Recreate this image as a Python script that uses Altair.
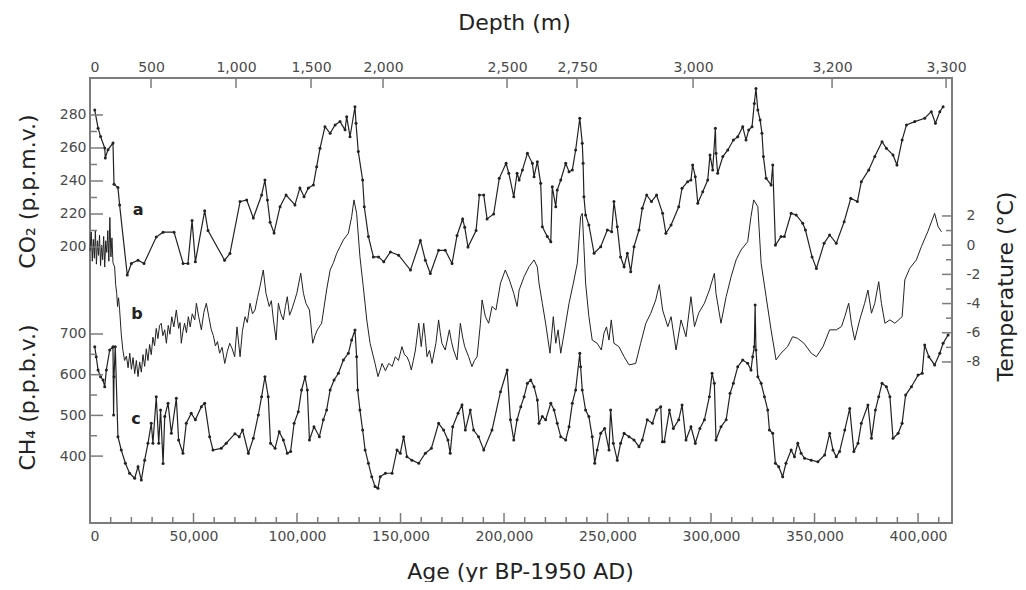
import altair as alt
import pandas as pd

# ---------------- data ----------------
# (age yr BP, CO2 ppmv)
co2 = [(2300,283),(3900,272),(5100,267),(7100,260),(7400,254),(8700,259),(11100,263),(11600,238),
(13500,236),(14300,225.5),(18000,183),(20000,190),(23200,192),(26100,190),(32000,206),(35300,209),
(40600,209),(45000,190),(47300,190),(49300,216),(50900,191),(55400,222),(57000,210),(65000,192),
(67600,196),(72500,227.5),(75700,228.5),(78900,217.6),(82900,231.5),(84500,240.6),(85700,228.5),
(87000,215),(88900,208.5),(91800,224.4),(94700,231.5),(99000,225.5),(101400,235.8),(103400,230.5),
(105500,235.8),(107900,237.6),(109500,248.7),(111100,259.8),(113500,272.9),(116000,268.9),(118400,274),
(120800,276),(123200,271),(124000,279),(125600,266.8),(128000,285),(128500,275),(129600,257.8),
(131700,240.6),(132500,224.4),(134500,206.3),(136900,194),(139400,194),(141900,191),(145100,197),
(149100,195),(154800,186),(159600,204),(162000,192),(164400,184),(168400,198),(171600,198),(174900,190),
(177300,207),(180000,217),(181000,212),(182600,200),(186500,210),(188100,231.5),(190200,231.5),
(191800,217),(195000,220),(197700,241.6),(201000,250.7),(202300,244.7),(204700,230.5),(206300,244.7),
(207300,240.6),(208900,246.7),(211300,256.8),(213700,250.7),(214500,242.6),(216100,251.7),(217700,238.6),
(218500,212.3),(220900,206.3),(222600,203.2),(223300,236.5),(225000,224.4),(225700,234.5),(227400,240.6),
(229800,250.7),(231400,245.6),(233000,246.7),(234600,258.8),(236600,278),(237800,262.8),(238200,250.7),
(238600,230.5),(239400,219.4),(241000,213.3),(243500,196.2),(246700,200.2),(249900,210.3),(252000,209.3),
(253100,227.5),(254700,212.3),(256300,194),(258000,188),(259600,196.2),(261200,185),(262800,200.2),
(265200,210.3),(266800,223.5),(268900,231.5),(271200,227.5),(273700,231.5),(276600,220.4),(278200,208.3),
(280700,213.3),(284400,224.4),(286000,235.6),(288700,239.6),(290300,240.6),(291100,249.7),(292400,242.6),
(293600,226.5),(296000,233.5),(298400,240.6),(299500,255.8),(300800,246.7),(302100,272),(302400,256.8),
(303200,244.7),(305700,254.8),(308100,258.8),(310800,264.8),(312900,266.8),(315300,272.9),(316900,264.8),
(318200,270.9),(319800,272.9),(320900,287),(321700,296),(322600,283),(323700,277),(324600,269),
(325300,254.8),(326600,241.6),(329000,237.6),(329800,249.7),(331100,201.2),(333800,206.3),(335400,206.3),
(338700,220.4),(341100,219.4),(344300,214.4),(345600,210.3),(348800,194),(350900,187),(354600,202.2),
(357300,207.3),(360500,202.2),(364300,215.3),(367500,229.5),(370700,227.5),(372600,239.6),(376200,246.7),
(379100,254.8),(382600,263.8),(384700,259.8),(387900,255.8),(389800,249.7),(392300,264.8),(394400,274),
(398400,276),(403200,278),(406400,282),(408400,275),(410500,282),(412100,285)]

# (age yr BP, temperature deg C)
temp = [(0,-0.4),(600,0.9),(1100,-1.1),(1600,0.4),(2100,-0.9),(2600,1.0),(3100,-1.3),(3600,0.3),
(4100,-0.7),(4600,0.7),(5100,-1.4),(5600,0.0),(6100,-1.0),(6600,0.6),(7100,-1.5),(7600,0.3),(8100,-0.5),
(8600,1.0),(9100,-1.1),(9600,1.9),(10100,-0.8),(10600,0.5),(11100,-1.2),(11900,-1.5),(12400,-2.7),
(12900,-3.3),(13300,-4.2),(13800,-3.6),(14300,-4.4),(15100,-6.1),(15900,-7.2),(16700,-7.9),(17600,-7.6),
(18400,-8.4),(19200,-7.4),(20000,-8.5),(20800,-7.7),(21600,-8.8),(22400,-7.9),(23200,-9.0),(24000,-8.0),
(24800,-8.7),(25600,-7.5),(26400,-8.3),(27200,-7.1),(28000,-7.9),(28800,-6.8),(29600,-7.5),(30400,-6.3),
(31200,-6.9),(32000,-5.7),(32800,-6.4),(33600,-5.5),(34400,-5.35),(35200,-6.2),(36100,-5.8),(36900,-6.72),
(37800,-5.5),(38600,-6.1),(39500,-4.9),(40500,-5.6),(41700,-4.44),(42800,-5.7),(43500,-5.3),(44100,-6.72),
(44900,-5.9),(45700,-5.35),(46600,-6.0),(47500,-4.9),(48400,-5.6),(49400,-4.7),(50600,-5.12),(51400,-3.98),
(52500,-4.9),(53800,-5.8),(55000,-4.6),(56200,-3.98),(57400,-4.9),(58600,-5.8),(59600,-6.2),(60600,-6.9),
(61600,-6.6),(62600,-7.4),(63800,-7.0),(65100,-8.1),(66300,-7.3),(67500,-6.72),(68700,-7.1),(69900,-7.64),
(71000,-5.6),(72500,-7.64),(73600,-5.9),(74900,-4.9),(76000,-5.3),(77300,-3.98),(78500,-4.7),(79700,-4.44),
(80900,-3.6),(82100,-2.84),(83700,-1.7),(85000,-3.3),(86600,-4.2),(87600,-3.8),(88600,-5.12),(89900,-6.5),
(91000,-3.98),(92200,-4.7),(93400,-5.12),(94400,-4.2),(95300,-3.53),(96400,-4.8),(97400,-4.44),(98600,-3.9),
(99900,-3.3),(101800,-1.92),(103100,-3.3),(104300,-3.98),(106000,-4.44),(107600,-6.72),(108700,-6.2),
(109800,-5.8),(111900,-5.35),(114300,-3.07),(116000,-1.7),(117600,-1.2),(119200,-0.55),(120800,-0.1),
(122400,0.36),(124800,0.82),(126400,1.95),(127500,3.1),(128800,2.18),(130400,-0.8),(132000,-2.84),
(133700,-5.12),(135300,-6.72),(137700,-8.1),(139100,-9.0),(140500,-8.4),(141100,-8.1),(142700,-8.6),
(144300,-8.1),(146000,-8.3),(147500,-7.64),(149000,-7.9),(150700,-6.95),(151900,-7.5),(153100,-7.64),
(154200,-8.0),(155200,-8.55),(156200,-7.9),(157200,-7.18),(158800,-5.35),(160000,-6.95),(161200,-5.35),
(162000,-6.4),(162800,-7.64),(164000,-7.2),(165200,-8.1),(167100,-6.72),(168400,-5.12),(169200,-6.0),
(170000,-6.72),(171600,-7.18),(173600,-5.8),(174600,-6.6),(175600,-7.18),(177300,-7.86),(178900,-5.35),
(180000,-6.3),(181000,-6.95),(182900,-7.64),(184500,-8.32),(185700,-7.9),(187000,-7.64),(188600,-5.35),
(189400,-3.75),(191000,-4.9),(192600,-5.35),(194200,-4.2),(196100,-4.44),(198300,-2.6),(200600,-1.7),
(202600,-2.38),(204700,-3.3),(206300,-4.2),(207300,-3.07),(209700,-2.16),(212100,-1.47),(214500,-1.01),
(216100,-1.5),(216900,-2.6),(218500,-3.98),(220100,-5.35),(222200,-7.4),(223800,-4.9),(225000,-6.72),
(226100,-5.8),(227400,-7.4),(229300,-5.8),(231400,-3.98),(233500,-2.6),(235400,-1.24),(237000,1.95),
(237800,2.18),(238600,-0.1),(239400,-2.6),(241000,-4.9),(242600,-6.5),(245000,-6.72),(247000,-7.18),
(248300,-6.03),(249500,-5.6),(250700,-6.5),(251800,-5.12),(253100,-6.72),(255500,-6.95),(258000,-7.64),
(260400,-8.2),(263600,-8.1),(266000,-6.72),(268500,-5.35),(270900,-4.66),(273300,-3.75),(275000,-2.7),
(276600,-4.44),(279100,-5.58),(280700,-4.9),(283100,-7.18),(285500,-5.12),(287900,-6.27),(290300,-3.53),
(292000,-5.58),(294000,-4.66),(296800,-3.98),(299200,-3.07),(301600,-1.93),(302400,-3.3),(304800,-5.35),
(307300,-3.53),(309700,-2.16),(312100,-1.01),(314500,-0.33),(317700,0.24),(319300,1.95),(320600,3.1),
(322600,2.64),(324200,-1.24),(326600,-3.53),(329000,-5.8),(331400,-7.86),(333800,-7.4),(337000,-6.95),
(339400,-6.27),(341800,-6.38),(344900,-6.72),(348400,-7.4),(350900,-7.64),(354100,-6.95),(357300,-5.8),
(360500,-5.8),(363000,-5.58),(364600,-4.9),(366500,-3.98),(367800,-5.35),(369400,-6.5),(371800,-5.12),
(374200,-3.98),(375800,-3.07),(377500,-4.66),(379100,-3.98),(381000,-2.5),(382300,-3.98),(384000,-5.35),
(386400,-5.12),(388800,-5.35),(392300,-4.9),(393600,-2.38),(396000,-1.58),(399200,-1.01),(401600,-0.1),
(404800,0.96),(408000,2.18),(409700,1.27),(411300,0.92)]

# (age yr BP, CH4 ppbv)
ch4 = [(2300,668.8),(3000,644),(3900,611.5),(5100,595),(6300,587),(7100,570.5),(7900,611.5),(9500,660.7),
(11100,668.8),(11400,501),(11600,595),(12200,668.8),(13500,447.7),(15100,415),(17100,382.3),(19100,357.8),
(21600,345.5),(23200,374),(24800,341),(26400,390),(28000,431.5),(29600,480.6),(30400,431.5),(32000,546),
(33200,431.5),(34100,513),(35300,382),(36100,497),(37700,530),(39300,456),(41700,542),(42800,439.5),
(44900,407),(46500,480.6),(48900,505),(50900,489),(53800,521.4),(55400,530),(57800,447.7),(59400,415),
(63400,419),(65800,431.5),(70000,455),(72100,447.7),(73700,464),(76500,407),(78900,443.6),(81300,501),
(82900,546),(84500,595),(86100,546),(87200,431.5),(89400,419),(91400,460),(93400,439.5),(95300,407),
(96900,411),(98600,480.6),(100600,509),(102200,562.4),(103900,595),(105000,562.4),(106000,439.5),
(108200,472),(110800,447.7),(112700,489),(114300,513),(116000,562.4),(117900,587),(120000,603.4),
(122400,636),(124800,652.6),(126400,685.3),(128000,709.8),(128800,644.2),(129300,562.4),(130400,513),
(131700,464),(132900,415),(134500,382.3),(136100,349.4),(137700,325),(139100,321),(140200,349.4),
(142700,357.8),(145900,357.8),(148300,415),(149900,407),(151500,447.7),(153100,398.5),(155500,390),
(158800,382.3),(162000,407),(164900,419),(168400,480.6),(170800,464),(172900,439.5),(174000,407),
(175200,472),(177800,505),(179700,525.6),(181300,464),(183700,513),(185300,464),(187700,447.7),
(190200,415),(194200,464),(198300,558.2),(201500,611.5),(203100,489),(204700,439.5),(206300,489),
(208100,521.4),(209700,546),(211300,579),(212900,587),(214500,570.5),(216100,538),(216900,480.6),
(218500,497),(220100,489),(222600,530),(224200,513),(225700,480.6),(227400,447.7),(229800,439.5),
(231400,472),(233000,530),(234600,562.4),(236600,652.6),(237000,619.7),(237800,562.4),(239400,513),
(241000,497),(242600,447.7),(243800,382.3),(245000,415),(246700,456),(248600,468),(250700,415),
(251500,513),(252800,431.5),(254700,390),(256300,431.5),(258000,456),(260400,447.7),(262800,439.5),
(265200,423),(266800,439.5),(269200,489),(271700,480.6),(273700,513),(275700,521.4),(276500,435.5),
(277400,435.5),(279900,513),(281800,468),(284400,489),(286000,525.6),(287900,439.5),(290300,472),
(292400,431.5),(294600,468),(296800,489),(299200,546),(300500,603.4),(301600,579),(302400,439.5),
(304800,472),(307300,489),(309200,554.3),(310800,579),(312900,619.7),(315300,636),(317700,628),
(319300,611.5),(320100,644.2),(320900,668.8),(321300,771),(321700,660.7),(322600,595),(324200,579),
(325800,546),(327400,513),(328200,464),(329800,456),(331100,382.3),(332700,374),(334600,349.4),
(336200,382.3),(338700,415),(340300,398.5),(341900,431.5),(343500,407),(345200,394.6),(348400,390),
(351600,386),(354900,402.7),(357300,456),(358900,415),(360500,398.5),(362100,411),(364600,464),
(367000,517),(369000,411),(371000,431.5),(372600,480.6),(375800,525.6),(377500,443.6),(379400,513),
(381000,546),(382600,579),(384700,570.5),(386400,546),(387900,443.6),(390400,456),(392300,480.6),
(394000,550),(396800,570.5),(400000,599),(402000,603.4),(403200,673),(405200,644.2),(408000,624),
(410500,652.6),(412100,677),(414500,697.5)]

# tick values / labels
age_major = [0, 50000, 100000, 150000, 200000, 250000, 300000, 350000, 400000]
age_minor = [10000, 20000, 30000, 40000, 60000, 70000, 80000, 90000, 110000, 120000, 130000, 140000,
             160000, 170000, 180000, 190000, 210000, 220000, 230000, 240000, 260000, 270000, 280000,
             290000, 310000, 320000, 330000, 340000, 360000, 370000, 380000, 390000, 410000]
depth_labels = ["0", "500", "1,000", "1,500", "2,000", "2,500", "2,750", "3,000", "3,200", "3,300"]
depth_at_age = [0, 29470, 70530, 106770, 141550, 201450, 235270, 291310, 358460, 413530]
co2_major = [200, 220, 240, 260, 280]
co2_minor = [210, 230, 250, 270]
ch4_major = [400, 500, 600, 700]
ch4_minor = [450, 550, 650]
t_major = [-8, -6, -4, -2, 0, 2]
t_minor = [-7, -5, -3, -1, 1]
series_labels = [("a", 23200, 222.4), ("b", 22700, -4.71), ("c", 22200, 491)]

# ---------------- layout / style ----------------
W, H = 862, 445
FONT = "DejaVu Sans"
INK = "#222222"
GRAY = "#7c7c7c"
LBL = "#4a4a4a"

xs = alt.Scale(domain=[0, 416400], nice=False, zero=False)
s_co2 = alt.Scale(domain=[32.73, 302.42], nice=False, zero=False)
s_ch4 = alt.Scale(domain=[235.6, 1329], nice=False, zero=False)
s_t = alt.Scale(domain=[-19.03, 11.45], nice=False, zero=False)

df_co2 = pd.DataFrame(co2, columns=["age", "v"])
df_t = pd.DataFrame(temp, columns=["age", "v"])
df_ch4 = pd.DataFrame(ch4, columns=["age", "v"])

ax_common = dict(ticks=False, domain=False, grid=False, labelFont=FONT, labelFontSize=14,
                 labelColor=LBL, titleFont=FONT, titleFontSize=22, titleFontWeight="normal",
                 titleColor=INK)

x_bottom = alt.X("age:Q", scale=xs, axis=alt.Axis(
    orient="bottom", values=age_major, format=",d", labelPadding=6,
    title="Age (yr BP-1950 AD)", titleX=430, titleY=48, titleBaseline="middle",
    titleAlign="center", **ax_common))
x_none = alt.X("age:Q", scale=xs, axis=None)

co2_line = alt.Chart(df_co2).mark_line(color=INK, strokeWidth=1.2).encode(
    x=x_bottom,
    y=alt.Y("v:Q", scale=s_co2, axis=alt.Axis(
        orient="left", values=co2_major, labelPadding=4, title="CO₂ (p.p.m.v.)",
        titleX=-63, titleY=113, titleAngle=270, titleBaseline="middle", titleAlign="center",
        **ax_common)))
co2_pts = alt.Chart(df_co2).mark_circle(color=INK, size=9, opacity=1).encode(
    x=x_none, y=alt.Y("v:Q", scale=s_co2, axis=None))

t_line = alt.Chart(df_t).mark_line(color=INK, strokeWidth=1.0).encode(
    x=x_none,
    y=alt.Y("v:Q", scale=s_t, axis=alt.Axis(
        orient="right", values=t_major, labelPadding=14,
        labelExpr="datum.value < 0 ? '-' + abs(datum.value) : '' + datum.value",
        title="Temperature (°C)", titleX=53, titleY=208, titleAngle=270,
        titleBaseline="middle", titleAlign="center", **ax_common)))

ch4_line = alt.Chart(df_ch4).mark_line(color=INK, strokeWidth=1.2).encode(
    x=x_none,
    y=alt.Y("v:Q", scale=s_ch4, axis=alt.Axis(
        orient="left", values=ch4_major, labelPadding=4, title="CH₄ (p.p.b.v.)",
        titleX=-63, titleY=319, titleAngle=270, titleBaseline="middle", titleAlign="center",
        **ax_common)))
ch4_pts = alt.Chart(df_ch4).mark_circle(color=INK, size=9, opacity=1).encode(
    x=x_none, y=alt.Y("v:Q", scale=s_ch4, axis=None))

def label_layer(row, scale):
    d = pd.DataFrame([row], columns=["t", "age", "v"])
    return alt.Chart(d).mark_text(font=FONT, fontSize=16, fontWeight="bold", color=INK).encode(
        x=x_none, y=alt.Y("v:Q", scale=scale, axis=None), text="t:N")

lab_a = label_layer(series_labels[0], s_co2)
lab_b = label_layer(series_labels[1], s_t)
lab_c = label_layer(series_labels[2], s_ch4)

def xticks(vals, length):
    d = pd.DataFrame({"age": vals})
    return alt.Chart(d).mark_rule(color=GRAY, strokeWidth=1.5).encode(
        x=x_none, y=alt.value(H), y2=alt.value(H - length))

def yticks(vals, scale, x0, x1):
    d = pd.DataFrame({"v": vals})
    return alt.Chart(d).mark_rule(color=GRAY, strokeWidth=1.5).encode(
        y=alt.Y("v:Q", scale=scale, axis=None), x=alt.value(x0), x2=alt.value(x1))

lookup = "[" + ",".join("'%s'" % s for s in depth_labels) + "][indexof([" + \
    ",".join(str(v) for v in depth_at_age) + "], datum.value)]"
top_ticks = alt.Chart(pd.DataFrame({"age": depth_at_age})).mark_rule(
    color=GRAY, strokeWidth=1.5).encode(
    x=alt.X("age:Q", scale=xs, axis=alt.Axis(
        orient="top", values=depth_at_age, labelExpr=lookup, labelPadding=4,
        title="Depth (m)", titleX=424, titleY=-56, titleBaseline="middle", titleAlign="center",
        **ax_common)),
    y=alt.value(0), y2=alt.value(10))

chart = alt.layer(
    co2_line, co2_pts, t_line, ch4_line, ch4_pts, lab_a, lab_b, lab_c,
    xticks(age_major, 10), xticks(age_minor, 6), top_ticks,
    yticks(co2_major, s_co2, 0, 13), yticks(co2_minor, s_co2, 0, 7),
    yticks(ch4_major, s_ch4, 0, 13), yticks(ch4_minor, s_ch4, 0, 7),
    yticks(t_major, s_t, W - 10, W), yticks(t_minor, s_t, W - 6, W),
).resolve_scale(x="independent", y="independent").properties(
    width=W, height=H,
    autosize=alt.AutoSizeParams(type="none"),
    padding={"left": 82, "top": 70, "right": 66, "bottom": 59},
    background="white",
).configure_view(stroke=GRAY, strokeWidth=2)

chart.save("out.html", embed_options={"renderer": "svg", "actions": False})
